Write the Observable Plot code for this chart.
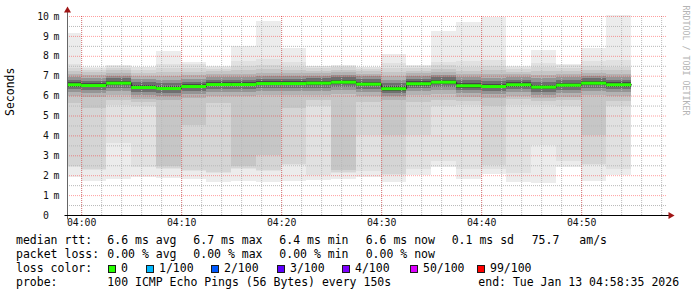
<!DOCTYPE html>
<html><head><meta charset="utf-8">
<script src="https://cdn.jsdelivr.net/npm/d3@7"></script>
<script src="https://cdn.jsdelivr.net/npm/@observablehq/plot@0.6"></script>
<style>
body{margin:0;background:#fff;}
#wrap{position:relative;width:697px;height:297px;overflow:hidden;background:#fff;}
#chart{position:absolute;left:0;top:0;}
#legend{position:absolute;left:0;top:232px;width:697px;height:65px;font-family:"DejaVu Sans Mono",monospace;font-size:11.5px;color:#000;}
#legend span{position:absolute;white-space:pre;line-height:14px;}
#legend i{position:absolute;width:6px;height:6px;border:1px solid #1a1a1a;}
</style></head><body>
<div id="wrap"><div id="chart"></div><div id="legend"></div></div>
<script>
// ---- data ----
const stepStarts = ["03:57:30","04:00:00","04:02:30","04:05:00","04:07:30","04:10:00","04:12:30","04:15:00","04:17:30","04:20:00","04:22:30","04:25:00","04:27:30","04:30:00","04:32:30","04:35:00","04:37:30","04:40:00","04:42:30","04:45:00","04:47:30","04:50:00","04:52:30"];
const lastStepEnd = "04:55:00";
const windowStart = "03:58:35";
const windowEnd = "04:58:35";
const xTickLabels = ["04:00","04:10","04:20","04:30","04:40","04:50"];
const yTicks = [0,1,2,3,4,5,6,7,8,9,10];

// median RTT (ms)
const median = [6.57,6.53,6.65,6.43,6.38,6.48,6.58,6.58,6.63,6.63,6.65,6.70,6.60,6.37,6.62,6.70,6.52,6.48,6.57,6.45,6.55,6.65,6.57];
// sorted-ping ranks (ms): rank k from bottom (lo) and from top (hi)
const q1lo  = [1.90,1.72,1.82,1.91,1.87,1.81,1.67,1.72,1.67,1.71,1.76,1.79,1.93,1.67,1.99,2.40,1.81,2.06,1.67,1.62,2.40,1.72,1.99];
const q1hi  = [9.16,7.42,7.54,7.45,8.26,7.70,7.49,8.49,9.75,8.41,7.50,7.54,7.45,8.09,7.54,9.25,9.70,9.93,7.49,8.29,7.59,8.39,10.05];
const q4lo  = [2.40,2.25,3.60,2.40,2.30,2.20,2.10,2.30,2.20,2.50,2.00,2.10,2.20,2.00,2.30,2.70,2.30,2.30,2.10,3.50,2.70,2.50,2.30];
const q4hi  = [7.60,7.38,7.50,7.42,7.60,7.60,7.45,7.75,7.85,7.70,7.47,7.50,7.42,7.65,7.50,7.70,7.75,7.80,7.45,7.65,7.55,7.75,7.80];
const q7lo  = [2.45,2.30,5.55,5.50,2.35,2.25,2.15,2.35,2.25,2.55,5.50,2.15,4.00,2.05,4.00,5.50,5.55,2.50,5.55,5.55,5.50,2.55,5.50];
const q7hi  = [7.38,7.30,7.40,7.30,7.38,7.38,7.35,7.48,7.55,7.45,7.38,7.42,7.35,7.40,7.40,7.52,7.45,7.48,7.35,7.42,7.40,7.48,7.45];
const q11lo = [5.65,5.40,5.80,5.70,2.45,4.50,5.65,2.45,3.00,5.40,5.80,2.25,5.70,4.00,5.70,5.80,5.75,5.50,5.85,5.75,5.80,4.00,5.75];
const q11hi = [7.22,7.17,7.27,7.15,7.18,7.20,7.22,7.28,7.32,7.28,7.26,7.30,7.23,7.18,7.26,7.36,7.26,7.28,7.20,7.22,7.22,7.30,7.27];
const q16lo = [5.97,5.93,6.05,5.85,5.80,5.88,5.98,5.98,6.03,6.03,6.05,6.10,6.00,5.80,6.02,6.08,5.92,5.88,5.97,5.88,5.95,6.05,5.97];
const q16hi = [7.07,7.03,7.13,6.98,6.98,7.02,7.08,7.10,7.15,7.13,7.13,7.18,7.10,6.98,7.12,7.20,7.08,7.08,7.07,7.03,7.07,7.15,7.10];
const q24lo = [6.17,6.13,6.25,6.03,5.98,6.08,6.18,6.18,6.23,6.23,6.25,6.30,6.20,5.98,6.22,6.30,6.12,6.08,6.17,6.05,6.15,6.25,6.17];
const q24hi = [6.93,6.89,7.00,6.82,6.80,6.85,6.94,6.95,7.00,6.99,7.00,7.05,6.96,6.80,6.98,7.05,6.92,6.90,6.93,6.86,6.92,7.01,6.94];
const q34lo = [6.32,6.28,6.40,6.18,6.13,6.23,6.33,6.33,6.38,6.38,6.40,6.45,6.35,6.12,6.37,6.45,6.27,6.23,6.32,6.20,6.30,6.40,6.32];
const q34hi = [6.79,6.75,6.87,6.66,6.62,6.70,6.80,6.80,6.85,6.85,6.87,6.92,6.82,6.62,6.84,6.92,6.76,6.72,6.79,6.70,6.77,6.87,6.79];
const q44lo = [6.45,6.41,6.53,6.31,6.26,6.36,6.46,6.46,6.51,6.51,6.53,6.58,6.48,6.25,6.50,6.58,6.40,6.36,6.45,6.33,6.43,6.53,6.45];
const q44hi = [6.67,6.63,6.75,6.53,6.48,6.58,6.68,6.68,6.73,6.73,6.75,6.80,6.70,6.47,6.72,6.80,6.62,6.58,6.67,6.55,6.65,6.75,6.67];

const lossLabels = ["0","1/100","2/100","3/100","4/100","50/100","99/100"];
const lossColors = ["#26ff00","#00b8ff","#0059ff","#5e00ff","#7e00ff","#dd00ff","#ff0000"];

// ---- build ----
const day = s => new Date(`2026-01-13T${s}Z`);
const xStart = day(windowStart), xEnd = day(windowEnd);
const starts = stepStarts.map(day);
const steps = starts.map((d, i) => ({
  i,
  s: d < xStart ? xStart : d,
  e: i + 1 < starts.length ? starts[i + 1] : day(lastStepEnd)
}));
const linePts = steps.map(d => ({t: d.s, v: median[d.i]}))
  .concat([{t: steps[steps.length - 1].e, v: median[median.length - 1]}]);

const layers = [
  [q1lo, q1hi, "#ececec"], [q4lo, q4hi, "#e1e1e1"], [q7lo, q7hi, "#d5d5d5"],
  [q11lo, q11hi, "#c6c6c6"], [q16lo, q16hi, "#b3b3b3"], [q24lo, q24hi, "#959595"],
  [q34lo, q34hi, "#6f6f6f"], [q44lo, q44hi, "#494949"]
];

const minorX = d3.utcMinute.every(2).range(xStart, xEnd);
const majorX = xTickLabels.map(s => day(s + ":00"));
const minorY = d3.range(0.5, 10, 1);
const majorY = yTicks.filter(v => v > 0);
const fmt = d3.utcFormat("%H:%M");

const chart = Plot.plot({
  width: 697, height: 232,
  marginLeft: 67, marginRight: 30, marginTop: 16, marginBottom: 17,
  x: {type: "utc", domain: [xStart, xEnd], axis: null},
  y: {domain: [0, 10], axis: null},
  style: {fontFamily: "DejaVu Sans Mono", fontSize: "9.8px", background: "white", overflow: "visible"},
  marks: [
    ...layers.map(([lo, hi, c]) => Plot.rect(steps, {
      x1: "s", x2: "e", y1: d => lo[d.i], y2: d => hi[d.i], fill: c, shapeRendering: "crispEdges"
    })),
    Plot.ruleX(minorX, {stroke: "#b8b8b8", strokeDasharray: "1,1"}),
    Plot.ruleY(minorY, {stroke: "#b8b8b8", strokeDasharray: "1,1"}),
    Plot.ruleX(majorX, {stroke: "#ff0000", strokeOpacity: 0.38, strokeDasharray: "1,1"}),
    Plot.ruleY(majorY, {stroke: "#ff0000", strokeOpacity: 0.38, strokeDasharray: "1,1"}),
    Plot.line(linePts, {x: "t", y: "v", curve: "step-after", stroke: "#202020", strokeWidth: 1}),
    Plot.ruleY(steps, {x1: "s", x2: "e", y: d => median[d.i], stroke: "#26ff00", strokeWidth: 3}),
    // axes
    Plot.ruleX([xStart], {y1: -0.22, y2: 10.25, stroke: "#666"}),
    Plot.ruleY([0], {x1: day("03:58:20"), x2: day("04:58:55"), stroke: "#000"}),
    Plot.dot([xStart], {x: d => d, y: 10.3, symbol: "triangle", r: 2.6, fill: "#a01515", stroke: "none"}),
    Plot.dot([day("04:58:53")], {x: d => d, y: 0, symbol: "triangle", rotate: 90, r: 2.6, fill: "#a01515", stroke: "none"}),
    Plot.text(majorX, {x: d => d, text: d => fmt(d), frameAnchor: "bottom", dy: 10.5, fill: "#111"}),
    Plot.text(yTicks, {y: d => d, text: d => String(d), frameAnchor: "left", textAnchor: "end", dx: -18.5, fill: "#111"}),
    Plot.text(majorY, {y: d => d, text: () => "m", frameAnchor: "left", textAnchor: "start", dx: -14, fill: "#111"}),
    Plot.text(["Seconds"], {text: d => d, frameAnchor: "left", dx: -57, rotate: -90, fontSize: 11.5, fill: "#000"}),
    Plot.text(["RRDTOOL / TOBI OETIKER"], {text: d => d, frameAnchor: "top-right", dx: 21.5, dy: -11, rotate: 90, textAnchor: "start", fontSize: 8.3, fill: "#b4b4b4"})
  ]
});
document.getElementById("chart").appendChild(chart);

// ---- legend (HTML, below the SVG) ----
const leg = document.getElementById("legend");
const rowTop = [1, 15, 29, 43];
function span(txt, x, row) {
  const s = document.createElement("span");
  s.textContent = txt; s.style.left = x + "px"; s.style.top = rowTop[row] + "px";
  leg.appendChild(s);
}
span("median rtt:", 16, 0);
[["6.6 ms avg",107.3],["6.7 ms max",193.3],["6.4 ms min",279.3],["6.6 ms now",365.7],["0.1 ms sd",451.7],["75.7",531.7],["am/s",579.3]]
  .forEach(([t, x]) => span(t, x, 0));
span("packet loss:", 16, 1);
[["0.00 % avg",107.3],["0.00 % max",193.3],["0.00 % min",279.3],["0.00 % now",365.7]]
  .forEach(([t, x]) => span(t, x, 1));
span("loss color:", 16, 2);
const boxX = [108, 146, 211, 277, 342, 410, 477];
lossLabels.forEach((l, k) => {
  const b = document.createElement("i");
  b.style.left = boxX[k] + "px"; b.style.top = "33px"; b.style.background = lossColors[k];
  leg.appendChild(b);
  span(l, boxX[k] + 13, 2);
});
span("probe:", 16, 3);
span("100 ICMP Echo Pings (56 Bytes) every 150s", 107.3, 3);
span("end: Tue Jan 13 04:58:35 2026", 478.3, 3);
</script>
</body></html>
